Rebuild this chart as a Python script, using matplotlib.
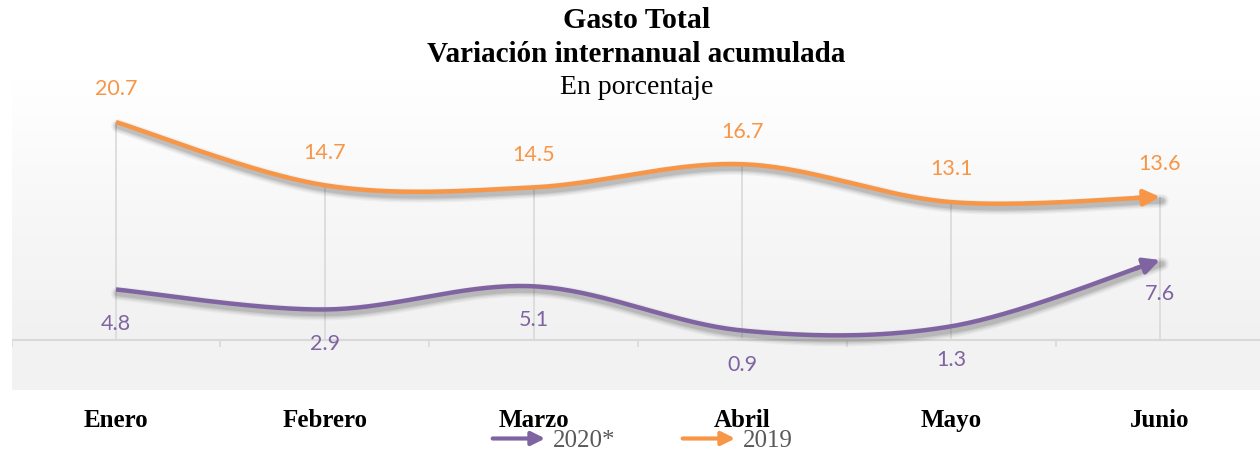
import numpy as np
import matplotlib
matplotlib.use("Agg")
from matplotlib import pyplot as plt
from matplotlib import transforms
from matplotlib.lines import Line2D
from matplotlib.patches import FancyArrowPatch
from matplotlib.legend_handler import HandlerBase

# data
meses = ["Enero", "Febrero", "Marzo", "Abril", "Mayo", "Junio"]
gasto_2020 = [4.8, 2.9, 5.1, 0.9, 1.3, 7.6]
gasto_2019 = [20.7, 14.7, 14.5, 16.7, 13.1, 13.6]

naranja = "#F79646"
morado = "#8064A2"


def suavizar(xs, ys, n=40):
    # curva tipo Excel (bezier con tangentes catmull-rom)
    p = np.column_stack([xs, ys]).astype(float)
    p = np.vstack([p[0], p, p[-1]])
    out = []
    for i in range(1, len(p) - 2):
        p0, p1, p2, p3 = p[i - 1], p[i], p[i + 1], p[i + 2]
        c1 = p1 + (p2 - p0) / 6
        c2 = p2 - (p3 - p1) / 6
        t = np.linspace(0, 1, n)[:, None]
        seg = (1 - t) ** 3 * p1 + 3 * (1 - t) ** 2 * t * c1 + 3 * (1 - t) * t ** 2 * c2 + t ** 3 * p2
        out.append(seg if i == 1 else seg[1:])
    seg = np.vstack(out)
    return seg[:, 0], seg[:, 1]


class FlechaHandler(HandlerBase):
    def create_artists(self, legend, orig_handle, xdescent, ydescent, width, height, fontsize, trans):
        y = height / 2 - ydescent
        a = FancyArrowPatch((-xdescent, y), (width - xdescent, y), arrowstyle="-|>",
                            mutation_scale=20, color=orig_handle.get_color(), lw=3,
                            transform=trans, shrinkA=0, shrinkB=0)
        return [a]


fig = plt.figure(figsize=(12.6, 4.53), dpi=100)
ax = fig.add_axes([11.6 / 1260, 1 - 390 / 453, 1252.8 / 1260, 310 / 453])
ax.set_xlim(-0.5, 5.5)
ax.set_ylim(-4.75, 24.7)

# fondo degradado
grad = np.linspace(0, 1, 256)[:, None]
ax.imshow(grad, extent=(-0.5, 5.5, -4.75, 24.7), aspect="auto", origin="lower",
          cmap=matplotlib.colors.LinearSegmentedColormap.from_list("g", ["#EFEFEF", "#F6F6F6", "#FFFFFF"]),
          zorder=0)
ax.axhspan(-4.75, 0, color="#F2F2F2", zorder=0.5)

x = np.arange(len(meses))
tope = np.maximum(gasto_2019, gasto_2020)
ax.vlines(x, 0, tope, color="#D9D9D9", lw=1.2, zorder=1)
ax.axhline(0, color="#D9D9D9", lw=1.5, zorder=1)

for serie, col in [(gasto_2019, naranja), (gasto_2020, morado)]:
    xs, ys = suavizar(x, serie)
    for w, a in [(10, 0.05), (8, 0.07), (6, 0.10), (4, 0.14)]:
        tr = transforms.offset_copy(ax.transData, fig=fig, x=2, y=-4, units="dots")
        ax.plot(xs, ys, color="#404040", lw=w, alpha=a, transform=tr, zorder=2,
                solid_capstyle="round")
    ax.plot(xs[:-6], ys[:-6], color=col, lw=3.2, zorder=3, solid_capstyle="butt")
    ax.annotate("", xy=(xs[-1], ys[-1]), xytext=(xs[-8], ys[-8]),
                arrowprops=dict(arrowstyle="-|>", color=col, lw=3.2, mutation_scale=24,
                                shrinkA=0, shrinkB=0), zorder=4)

for i, v in enumerate(gasto_2019):
    ax.annotate(f"{v}", (i, v), xytext=(0, 23.5), textcoords="offset points", ha="center",
                va="center", color=naranja, fontsize=15.5, family="Lato")
for i, v in enumerate(gasto_2020):
    ax.annotate(f"{v}", (i, v), xytext=(0, -24.5), textcoords="offset points", ha="center",
                va="center", color=morado, fontsize=15.5, family="Lato")

for s in ax.spines.values():
    s.set_visible(False)
ax.set_yticks([])
ax.set_xticks(x)
ax.set_xticklabels(meses, fontsize=18, fontweight="bold", family="Liberation Serif")
ax.tick_params(axis="x", length=0, pad=14)
ax.vlines(np.arange(-0.5, 5.6, 1), -0.7, 0, color="#D9D9D9", lw=1.2, zorder=1)

fig.text(0.505, 1 - 20 / 453, "Gasto Total", ha="center", va="center", fontsize=21.5,
         fontweight="bold", family="Liberation Serif")
fig.text(0.505, 1 - 55 / 453, "Variación internanual acumulada", ha="center", va="center",
         fontsize=21, fontweight="bold", family="Liberation Serif")
fig.text(0.505, 1 - 87 / 453, "En porcentaje", ha="center", va="center", fontsize=20,
         family="Liberation Serif")

handles = [Line2D([], [], color=morado), Line2D([], [], color=naranja)]
leg = fig.legend(handles, ["2020*", "2019"], loc="center", bbox_to_anchor=(0.51, 1 - 441 / 453),
                 ncol=2, frameon=False, handler_map={Line2D: FlechaHandler()},
                 prop={"family": "Liberation Serif", "size": 18}, handlelength=2.1,
                 handletextpad=0.3, columnspacing=2.7, borderpad=0.1)
for t in leg.get_texts():
    t.set_color("#595959")

fig.savefig("out.png", dpi=100)
